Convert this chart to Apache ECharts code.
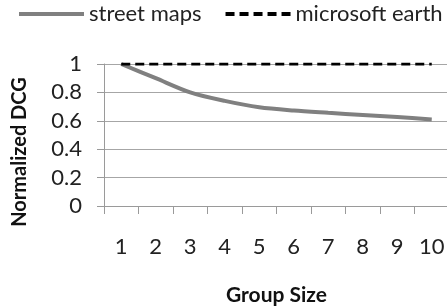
<!DOCTYPE html>
<html>
<head>
<meta charset="utf-8">
<script src="https://cdn.jsdelivr.net/npm/echarts@6/dist/echarts.min.js"></script>
<style>
  html, body { margin: 0; padding: 0; background: #fff; }
  #chart { width: 447px; height: 307px; }
</style>
</head>
<body>
<div id="chart"></div>
<script>
const groupSizes = ['1', '2', '3', '4', '5', '6', '7', '8', '9', '10'];
const streetMaps = [1, 0.9, 0.8, 0.74, 0.695, 0.672, 0.656, 0.641, 0.626, 0.61];
const microsoftEarth = [1, 1, 1, 1, 1, 1, 1, 1, 1, 1];

const font = 'Lato';
const chart = echarts.init(document.getElementById('chart'));

const option = {
    animation: false,
    textStyle: { fontFamily: font },
    legend: {
        top: 3,
        left: 17,
        width: 440,
        padding: 0,
        itemWidth: 65,
        itemHeight: 14,
        itemGap: 22,
        itemStyle: { opacity: 0 },
        textStyle: { fontSize: 22, color: '#222', fontFamily: font },
        data: [
            { name: 'street maps', lineStyle: { width: 4 } },
            { name: 'microsoft earth', lineStyle: { width: 4 } }
        ]
    },
    grid: {
        left: 104,
        right: -2,
        top: 64,
        bottom: 101,
        outerBoundsMode: 'none'
    },
    graphic: [{
        type: 'text',
        x: 20,
        y: 152,
        rotation: Math.PI / 2,
        style: {
            text: 'Normalized DCG',
            fontFamily: font,
            fontWeight: 'bold',
            fontSize: 20,
            fill: '#111',
            align: 'center',
            verticalAlign: 'middle'
        }
    }],
    xAxis: {
        type: 'category',
        data: groupSizes,
        boundaryGap: true,
        name: 'Group Size',
        nameLocation: 'middle',
        nameGap: 79,
        nameTextStyle: { fontSize: 21, fontWeight: 'bold', color: '#111', fontFamily: font },
        axisLine: { lineStyle: { color: '#9a9a9a', width: 1 } },
        axisTick: { show: true, length: 8, alignWithLabel: false, lineStyle: { color: '#9a9a9a' } },
        axisLabel: { margin: 30, fontSize: 22, color: '#222', fontFamily: font }
    },
    yAxis: {
        type: 'value',
        min: 0,
        max: 1,
        interval: 0.2,
        axisLine: { show: true, lineStyle: { color: '#9a9a9a', width: 1 } },
        axisTick: { show: true, length: 7, lineStyle: { color: '#9a9a9a' } },
        axisLabel: { margin: 22, fontSize: 22, color: '#222', fontFamily: font,
            formatter: v => String(Math.round(v * 10) / 10) },
        splitLine: { show: true, lineStyle: { color: '#a6a6a6', width: 1 } }
    },
    series: [{
        name: 'street maps',
        type: 'line',
        data: streetMaps,
        symbol: 'none',
        smooth: 0.3,
        itemStyle: { color: '#808080' },
        lineStyle: { color: '#808080', width: 4 }
    }, {
        name: 'microsoft earth',
        type: 'line',
        data: microsoftEarth,
        symbol: 'none',
        itemStyle: { color: '#000' },
        lineStyle: { color: '#000', width: 3, type: [9, 5] }
    }]
};

chart.setOption(option);
window.addEventListener('resize', () => chart.resize());
</script>
</body>
</html>
